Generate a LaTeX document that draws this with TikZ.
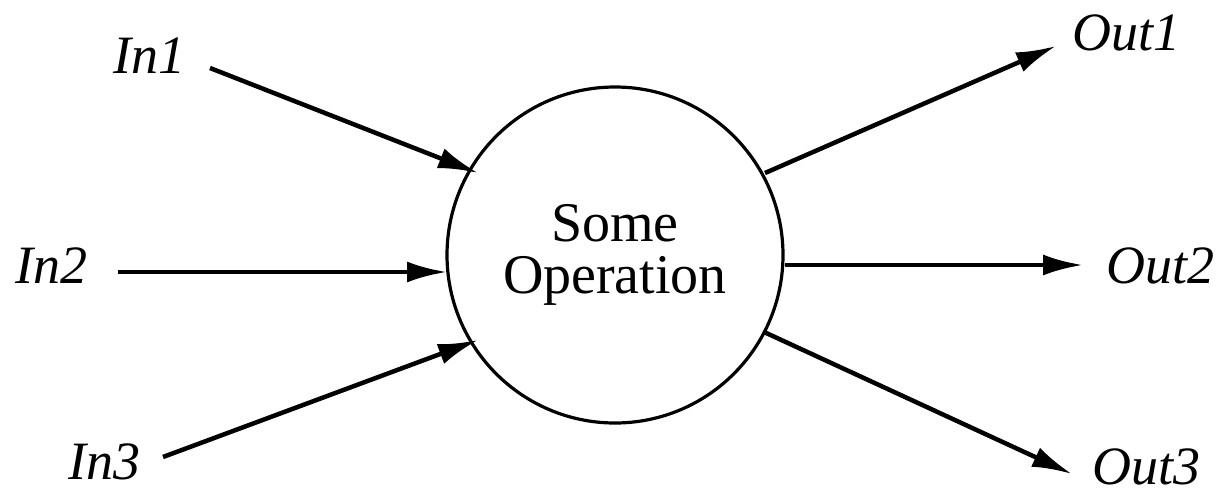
\documentclass[tikz,border=0pt]{standalone}
\usepackage{fontspec}
\setmainfont{Liberation Serif}
\newfontfamily\tnr{Liberation Serif}
\usetikzlibrary{arrows.meta}
\begin{document}
\begin{tikzpicture}[x=1pt,y=-1pt,
  lbl/.style={anchor=base west,inner sep=0pt,font=\tnr\fontsize{54}{58}\selectfont\itshape},
  conn/.style={line width=4.5pt,-{Latex[length=40pt,width=21pt]}},
  op/.style={circle,draw,line width=3.2pt,minimum size=336pt,inner sep=0pt,align=center,
    font=\tnr\fontsize{56}{52}\selectfont}]
\useasboundingbox (0,0) rectangle (1222,493);
\node[op] (C) at (615,255) {Some\\Operation};
\node[lbl] (in1) at (113,73) {In1};
\node[lbl] (in2) at (15,283) {In2};
\node[lbl] (in3) at (68,479) {In3};
\node[lbl] (out1) at (1072,50) {Out1};
\node[lbl] (out2) at (1106,283) {Out2};
\node[lbl] (out3) at (1092,484) {Out3};
\coordinate (i1s) at (210,68);  \coordinate (i1e) at (478,173);
\coordinate (i2s) at (118,272); \coordinate (i2e) at (447,272);
\coordinate (i3s) at (163,457); \coordinate (i3e) at (478,340);
\coordinate (o1s) at (765,173); \coordinate (o1e) at (1056,46);
\coordinate (o2s) at (785,265); \coordinate (o2e) at (1083,265);
\coordinate (o3s) at (764,332); \coordinate (o3e) at (1072,474);
\draw[conn] (i1s) -- (i1e);
\draw[conn] (i2s) -- (i2e);
\draw[conn] (i3s) -- (i3e);
\draw[conn] (o1s) -- (o1e);
\draw[conn] (o2s) -- (o2e);
\draw[conn] (o3s) -- (o3e);
\end{tikzpicture}
\end{document}
